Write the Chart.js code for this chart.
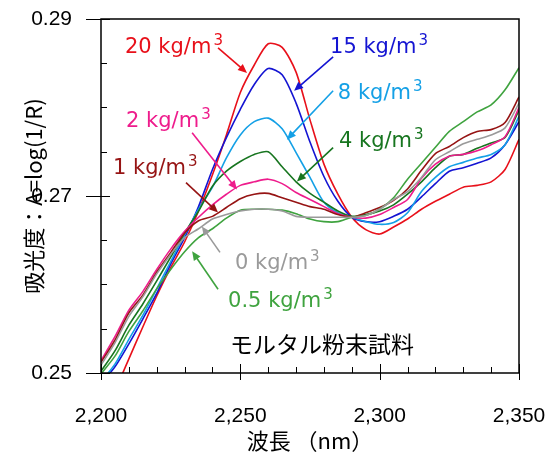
<!DOCTYPE html>
<html>
<head>
<meta charset="utf-8">
<script src="https://cdn.jsdelivr.net/npm/chart.js@4.4.0/dist/chart.umd.min.js"></script>
<style>
  html, body { margin: 0; padding: 0; background: #fff; }
</style>
</head>
<body>
<canvas id="mycanvas" width="549" height="452"></canvas>
<script>
// wavelength (nm)
var wavelengths = [2200,2205,2210,2215,2220,2225,2230,2235,2240,2245,2250,2255,2260,2265,2270,2275,2280,2285,2290,2295,2300,2305,2310,2315,2320,2325,2330,2335,2340,2345,2350];

// absorbance A=log(1/R), one array per sample
var s0  = [.2509,.2534,.2564,.2586,.2612,.2634,.2653,.2663,.2674,.2679,.2683,.2685,.2685,.2683,.2677,.2676,.2676,.2676,.2676,.2678,.2685,.2696,.2705,.2721,.2741,.2750,.2759,.2764,.2769,.2777,.2805];
var s05 = [.2499,.2519,.2547,.2570,.2595,.2617,.2637,.2653,.2663,.2675,.2684,.2685,.2685,.2684,.2680,.2674,.2671,.2671,.2676,.2678,.2685,.2698,.2719,.2737,.2755,.2773,.2784,.2795,.2803,.2820,.2845];
var s1  = [.2512,.2537,.2568,.2588,.2614,.2636,.2658,.2672,.2677,.2687,.2697,.2702,.2703,.2698,.2693,.2688,.2685,.2679,.2676,.2681,.2687,.2695,.2708,.2729,.2748,.2756,.2766,.2773,.2775,.2783,.2812];
var s2  = [.2514,.2541,.2571,.2592,.2617,.2640,.2660,.2676,.2690,.2702,.2712,.2716,.2719,.2714,.2704,.2696,.2688,.2680,.2676,.2675,.2679,.2687,.2696,.2720,.2736,.2745,.2747,.2751,.2758,.2767,.2800];
var s4  = [.2502,.2525,.2554,.2578,.2604,.2631,.2658,.2683,.2711,.2728,.2739,.2747,.2750,.2733,.2716,.2703,.2693,.2683,.2677,.2679,.2683,.2690,.2702,.2716,.2732,.2745,.2747,.2754,.2760,.2766,.2797];
var s8  = [.2490,.2510,.2538,.2565,.2595,.2626,.2656,.2685,.2710,.2743,.2769,.2784,.2788,.2776,.2749,.2721,.2693,.2681,.2676,.2671,.2668,.2670,.2681,.2705,.2721,.2733,.2738,.2743,.2747,.2758,.2790];
var s15 = [.2488,.2507,.2533,.2561,.2590,.2623,.2653,.2688,.2730,.2766,.2798,.2826,.2844,.2837,.2805,.2761,.2722,.2694,.2676,.2671,.2671,.2677,.2685,.2699,.2714,.2728,.2732,.2737,.2743,.2758,.2784];
var s20 = [.2449,.2480,.2516,.2552,.2587,.2619,.2648,.2683,.2724,.2769,.2817,.2848,.2872,.2868,.2840,.2786,.2736,.2702,.2676,.2662,.2657,.2665,.2674,.2685,.2694,.2702,.2710,.2712,.2716,.2730,.2764];

var seriesNames = ['0 kg/m', '0.5 kg/m', '1 kg/m', '2 kg/m', '4 kg/m', '8 kg/m', '15 kg/m', '20 kg/m'];
var seriesValues = [s0, s05, s1, s2, s4, s8, s15, s20];
var seriesColors = ['#9a9a9a', '#3fa33f', '#961414', '#ee1c8c', '#17751f', '#14a0e6', '#1414d2', '#e8101a'];

var xTicks = [2200, 2250, 2300, 2350];
var yTicks = [0.25, 0.27, 0.29];

// label anchor (nm, A) and arrow start -> tip, in data units
var notes = [
  {i: 7, at: [2208.6, 0.28617], from: [2242.0, 0.28673], to: [2252.4, 0.28391]},
  {i: 6, at: [2282.2, 0.28617], from: [2283.3, 0.28572], to: [2269.3, 0.28189]},
  {i: 5, at: [2285.0, 0.28099], from: [2283.3, 0.28189], to: [2266.7, 0.27637]},
  {i: 4, at: [2285.4, 0.27558], from: [2283.3, 0.27546], to: [2270.3, 0.27163]},
  {i: 3, at: [2209.0, 0.27783], from: [2232.7, 0.27715], to: [2248.8, 0.27073]},
  {i: 2, at: [2204.3, 0.27253], from: [2230.5, 0.27152], to: [2242.0, 0.26814]},
  {i: 0, at: [2248.1, 0.26172], from: [2242.7, 0.26363], to: [2236.2, 0.26656]},
  {i: 1, at: [2245.6, 0.25743], from: [2242.0, 0.25946], to: [2232.7, 0.26375]}
];
var sampleTitle = {text: 'モルタル粉末試料', at: [2279.3, 0.25327]};

var datasets = [];
for (var k = 0; k < seriesValues.length; k++) {
  var pts = [];
  for (var n = 0; n < wavelengths.length; n++) {
    pts.push({x: wavelengths[n], y: seriesValues[k][n]});
  }
  datasets.push({
    label: seriesNames[k],
    data: pts,
    borderColor: seriesColors[k],
    backgroundColor: seriesColors[k],
    borderWidth: 1.6,
    pointRadius: 0,
    tension: 0.25,
    fill: false
  });
}

function arrow(ctx, x0, y0, x1, y1, color) {
  var ang = Math.atan2(y1 - y0, x1 - x0);
  var len = 9, half = 4;
  ctx.strokeStyle = color;
  ctx.fillStyle = color;
  ctx.lineWidth = 1.6;
  ctx.beginPath();
  ctx.moveTo(x0, y0);
  ctx.lineTo(x1 - Math.cos(ang) * len * 0.8, y1 - Math.sin(ang) * len * 0.8);
  ctx.stroke();
  ctx.beginPath();
  ctx.moveTo(x1, y1);
  ctx.lineTo(x1 - Math.cos(ang) * len - Math.sin(ang) * half, y1 - Math.sin(ang) * len + Math.cos(ang) * half);
  ctx.lineTo(x1 - Math.cos(ang) * len + Math.sin(ang) * half, y1 - Math.sin(ang) * len - Math.cos(ang) * half);
  ctx.closePath();
  ctx.fill();
}

function noPad(scale) {
  scale.paddingLeft = 0;
  scale.paddingRight = 0;
  scale.paddingTop = 0;
  scale.paddingBottom = 0;
}

var frame = {
  id: 'frame',
  afterDatasetsDraw: function(chart) {
    var ctx = chart.ctx, a = chart.chartArea;
    var xs = chart.scales.x, ys = chart.scales.y;
    ctx.save();
    ctx.strokeStyle = '#000';
    ctx.lineWidth = 1.5;
    ctx.strokeRect(a.left, a.top, a.right - a.left, a.bottom - a.top);
    ctx.lineWidth = 1;
    ctx.beginPath();
    for (var i = 0; i <= 8; i++) {
      var py = Math.round(ys.getPixelForValue(0.25 + i * 0.005)) + 0.5;
      if (i % 4 == 0) { ctx.moveTo(a.left - 15, py); ctx.lineTo(a.left + 9, py); }
      else { ctx.moveTo(a.left, py); ctx.lineTo(a.left + 6, py); }
    }
    for (var j = 0; j <= 15; j++) {
      var px = Math.round(xs.getPixelForValue(2200 + j * 10)) + 0.5;
      if (j % 5 == 0) { ctx.moveTo(px, a.bottom - 9); ctx.lineTo(px, a.bottom + 7); }
      else { ctx.moveTo(px, a.bottom); ctx.lineTo(px, a.bottom - 6); }
    }
    ctx.stroke();
    ctx.restore();
  },
  afterDraw: function(chart) {
    var ctx = chart.ctx;
    var xs = chart.scales.x, ys = chart.scales.y;
    ctx.save();
    notes.forEach(function(nt) {
      var c = seriesColors[nt.i];
      arrow(ctx, xs.getPixelForValue(nt.from[0]), ys.getPixelForValue(nt.from[1]),
        xs.getPixelForValue(nt.to[0]), ys.getPixelForValue(nt.to[1]), c);
      var tx = xs.getPixelForValue(nt.at[0]), ty = ys.getPixelForValue(nt.at[1]);
      ctx.fillStyle = c;
      ctx.textAlign = 'left';
      ctx.textBaseline = 'alphabetic';
      ctx.font = '21px "DejaVu Sans"';
      ctx.fillText(seriesNames[nt.i], tx, ty);
      var w = ctx.measureText(seriesNames[nt.i]).width;
      ctx.font = '15px "DejaVu Sans"';
      ctx.fillText('3', tx + w + 2, ty - 8);
    });
    ctx.fillStyle = '#000';
    ctx.font = '23px "Noto Sans CJK JP"';
    ctx.textAlign = 'center';
    ctx.textBaseline = 'middle';
    ctx.fillText(sampleTitle.text, xs.getPixelForValue(sampleTitle.at[0]), ys.getPixelForValue(sampleTitle.at[1]));
    ctx.restore();
  }
};

var ctx = document.getElementById('mycanvas');

var specChart = new Chart(ctx, {
  type: 'line',
  data: { datasets: datasets },
  plugins: [frame],
  options: {
    responsive: false,
    animation: false,
    devicePixelRatio: 1,
    layout: { padding: { top: 19, right: 30, left: 0, bottom: 0 } },
    plugins: { legend: { display: false }, tooltip: { enabled: false } },
    scales: {
      x: {
        type: 'linear',
        min: 2200,
        max: 2350,
        afterFit: function(scale) { scale.height = 79; noPad(scale); },
        afterBuildTicks: function(scale) { scale.ticks = xTicks.map(function(v) { return {value: v}; }); },
        grid: { display: false },
        border: { display: false },
        ticks: {
          padding: 25,
          color: '#000',
          font: { family: 'Liberation Sans', size: 21, lineHeight: 1 },
          maxRotation: 0,
          callback: function(v) { return v.toLocaleString('en-US'); }
        },
        title: {
          display: true,
          text: '波長 （nm）',
          color: '#000',
          padding: { top: 0, bottom: 0 },
          font: { family: 'Noto Sans CJK JP', size: 22, lineHeight: 1 }
        }
      },
      y: {
        min: 0.25,
        max: 0.29,
        afterFit: function(scale) { scale.width = 101; noPad(scale); },
        afterBuildTicks: function(scale) { scale.ticks = yTicks.map(function(v) { return {value: v}; }); },
        grid: { display: false },
        border: { display: false },
        ticks: {
          padding: 21,
          color: '#000',
          font: { family: 'Liberation Sans', size: 21, lineHeight: 1 },
          callback: function(v) { return v.toFixed(2); }
        },
        title: {
          display: true,
          text: '吸光度：A=log(1/R)',
          color: '#000',
          padding: { top: 23, bottom: 0 },
          font: { family: 'Noto Sans CJK JP', size: 22, lineHeight: 1 }
        }
      }
    }
  }
});
</script>
</body>
</html>
